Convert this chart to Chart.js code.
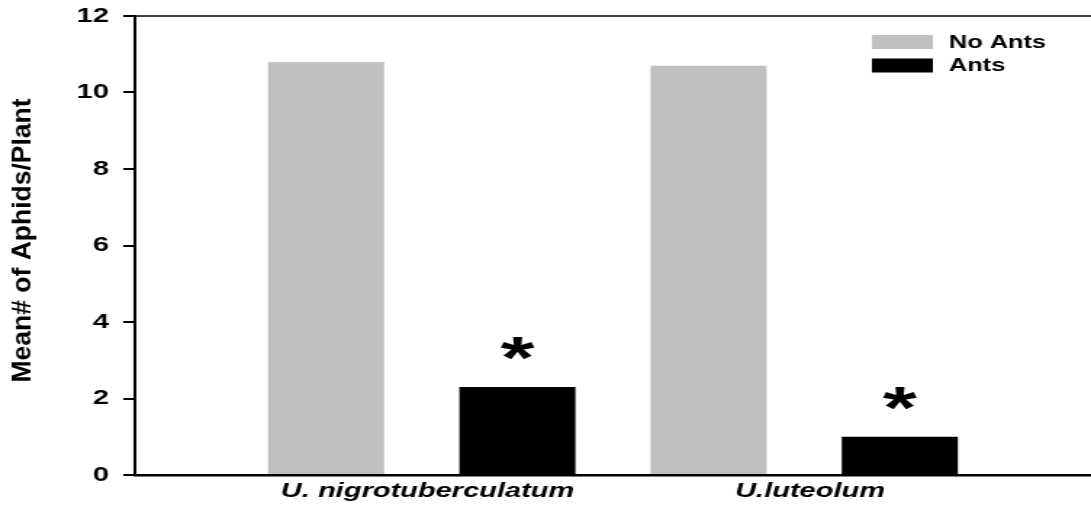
<!DOCTYPE html>
<html>
<head>
<meta charset="utf-8">
<script src="https://cdn.jsdelivr.net/npm/chart.js@4.4.1/dist/chart.umd.min.js"></script>
<style>
  html, body { margin: 0; padding: 0; background: #fff; overflow: hidden; }
  /* the reference is stretched sideways, so the canvas is drawn narrow and scaled */
  #wrap { width: 752px; height: 506px; transform: scaleX(1.4508); transform-origin: 0 0; }
</style>
</head>
<body>
<div id="wrap"><canvas id="aphid-chart" width="752" height="506"></canvas></div>
<script>
const categories = ["U. nigrotuberculatum", "U.luteolum"];
const seriesNames = ["No Ants", "Ants"];
const noAnts = [10.8, 10.7];
const ants = [2.3, 1.0];
const significance = ["*", "*"];
const yTicks = [0, 2, 4, 6, 8, 10, 12];
const yTitle = "Mean# of Aphids/Plant";

const FONT = "'Liberation Sans', Arial, sans-serif";

// legend drawn inside the plot, top right
const boxLegend = {
  id: "boxLegend",
  afterDraw(chart) {
    const { ctx, chartArea } = chart;
    ctx.save();
    ctx.font = "bold 17.5px " + FONT;
    ctx.textAlign = "left";
    ctx.textBaseline = "middle";
    chart.data.datasets.forEach((ds, i) => {
      const cy = chartArea.top + 26 + i * 23.5;
      ctx.fillStyle = ds.backgroundColor;
      ctx.fillRect(chartArea.right - 151, cy - 7, 42, 14);
      ctx.fillStyle = "#000";
      ctx.fillText(ds.label, chartArea.right - 98, cy + 1);
    });
    ctx.restore();
  },
};

// asterisks over the ant bars, top frame line, squeezed y title
const marks = {
  id: "marks",
  afterDatasetsDraw(chart) {
    const { ctx, chartArea } = chart;
    ctx.save();
    ctx.strokeStyle = "#000";
    ctx.lineWidth = 1.5;
    ctx.beginPath();
    ctx.moveTo(chartArea.left, chartArea.top);
    ctx.lineTo(chartArea.right, chartArea.top);
    ctx.stroke();

    ctx.font = "bold 60px " + FONT;
    ctx.textAlign = "center";
    ctx.textBaseline = "alphabetic";
    ctx.fillStyle = "#000";
    chart.getDatasetMeta(1).data.forEach((bar, i) => {
      if (significance[i]) ctx.fillText(significance[i], bar.x, bar.y - 9);
    });
    ctx.restore();

    ctx.save();
    ctx.translate(16.5, (chartArea.top + chartArea.bottom) / 2 - 5);
    ctx.rotate(-Math.PI / 2);
    ctx.scale(1, 0.67);
    ctx.font = "bold 26.5px " + FONT;
    ctx.textAlign = "center";
    ctx.textBaseline = "middle";
    ctx.fillStyle = "#000";
    ctx.fillText(yTitle, 0, 0);
    ctx.restore();
  },
};

new Chart(document.getElementById("aphid-chart"), {
  type: "bar",
  data: {
    datasets: [
      {
        label: seriesNames[0],
        data: noAnts.map((v, i) => ({ x: i, y: v })),
        backgroundColor: "#c0c0c0",
      },
      {
        label: seriesNames[1],
        data: ants.map((v, i) => ({ x: i, y: v })),
        backgroundColor: "#000000",
      },
    ],
  },
  options: {
    responsive: false,
    animation: false,
    devicePixelRatio: 1,
    layout: { padding: { top: 16, left: 0, right: 0, bottom: 0 } },
    datasets: {
      bar: { categoryPercentage: 1.0, barPercentage: 0.607 },
    },
    scales: {
      x: {
        type: "linear",
        offset: false,
        min: -0.75,
        max: 1.75,
        afterBuildTicks: (scale) => {
          scale.ticks = categories.map((c, i) => ({ value: i }));
        },
        afterFit: (scale) => {
          scale.height = 31;
          scale.paddingLeft = 0;
          scale.paddingRight = 0;
        },
        grid: { display: false, drawTicks: false },
        border: { display: true, color: "#000", width: 2.5 },
        ticks: {
          autoSkip: false,
          maxRotation: 0,
          padding: 6,
          labelOffset: 4,
          color: "#000",
          font: { family: FONT, size: 20, weight: "bold", style: "italic", lineHeight: 1 },
          callback: (v) => categories[v],
        },
      },
      y: {
        min: 0,
        max: 12,
        afterBuildTicks: (scale) => {
          scale.ticks = yTicks.map((v) => ({ value: v }));
        },
        afterFit: (scale) => {
          scale.width = 93;
          scale.paddingTop = 0;
          scale.paddingBottom = 0;
        },
        grid: {
          drawOnChartArea: false,
          drawTicks: true,
          tickLength: 8,
          color: "#000",
          lineWidth: 2,
        },
        border: { display: true, color: "#000", width: 2 },
        ticks: {
          padding: 10,
          color: "#000",
          font: { family: FONT, size: 20, weight: "bold" },
        },
      },
    },
    plugins: {
      legend: { display: false },
      tooltip: { enabled: false },
    },
  },
  plugins: [boxLegend, marks],
});
</script>
</body>
</html>
